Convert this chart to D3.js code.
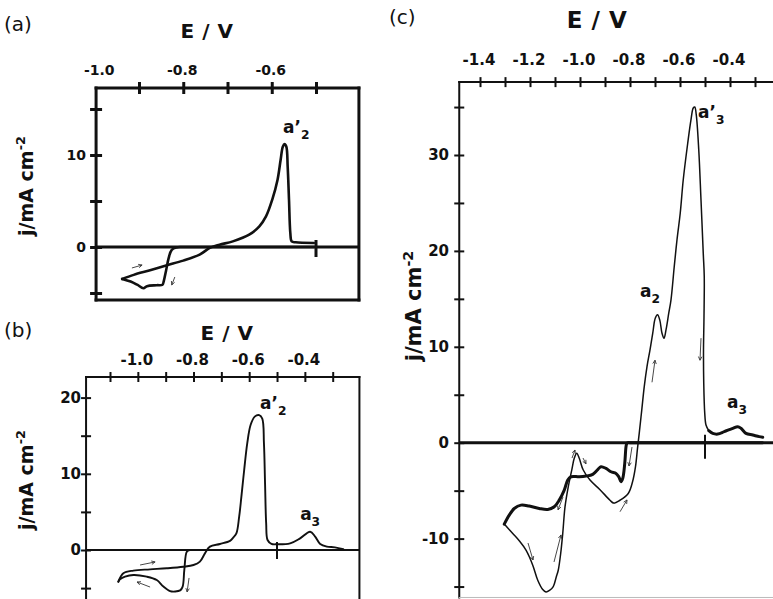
<!DOCTYPE html>
<html><head><meta charset="utf-8">
<script src="https://cdn.jsdelivr.net/npm/d3@7"></script>
<style>body{margin:0;background:#fff;} svg{display:block;}</style>
</head><body>
<svg id="chart" width="773" height="599"></svg>
<script>
// ---------------- DATA ----------------
// Panel (a)
const aFwdE = [-0.938,-0.912,-0.875,-0.837,-0.8,-0.763,-0.74,-0.718,-0.688,-0.651,-0.628,-0.613,-0.599,-0.587,-0.58,-0.575,-0.571,-0.567,-0.564,-0.561,-0.558,-0.555,-0.546,-0.505];
const aFwdJ = [-3.47,-3.03,-2.53,-1.99,-1.48,-0.83,-0.1,0.25,0.61,1.34,2.24,3.32,5.13,7.29,9.46,10.9,11.19,10.9,8.74,5.13,1.52,0.61,0.51,0.43];
const aRevE = [-0.505,-0.6,-0.7,-0.78,-0.805,-0.815,-0.826,-0.833,-0.839,-0.844,-0.847,-0.86,-0.882,-0.89,-0.904,-0.919,-0.938];
const aRevJ = [0,0,0,0,0,-0.05,-0.3,-1.2,-2.6,-3.7,-4.1,-4.15,-4.26,-4.48,-4.1,-3.75,-3.47];
const aXTicks = [-0.9,-0.8,-0.7,-0.6,-0.5];
const aXLabels = [-1.0,-0.8,-0.6];
const aYTicks = [-5,0,5,10,15];
const aYLabels = [0,10];
const aPeaks = [{E:-0.5746, j:12.4, base:"a’", sub:"2"}];
const aArrows = [[-0.916,-2.28,-0.893,-1.96],[-0.819,-3.26,-0.826,-4.13]];

// Panel (b)
const bFwdE = [-1.07,-1.052,-1.016,-0.956,-0.896,-0.837,-0.8,-0.777,-0.759,-0.741,-0.705,-0.669,-0.658,-0.646,-0.636,-0.628,-0.618,-0.607,-0.595,-0.58,-0.564,-0.553,-0.547,-0.543,-0.539,-0.534,-0.52,-0.501,-0.453,-0.417,-0.381,-0.363,-0.345,-0.321,-0.292,-0.262];
const bFwdJ = [-4.16,-3.06,-2.7,-2.54,-2.4,-2.2,-1.97,-1.53,-0.44,0.44,0.79,1.2,1.6,2.18,4.37,7.0,10.5,14.0,16.4,17.5,17.7,17.25,14.0,8.7,3.5,1.31,0.8,0.75,0.87,1.53,2.4,1.75,0.79,0.44,0.35,0.1];
const bRevE = [-0.262,-0.5,-0.7,-0.8,-0.813,-0.824,-0.833,-0.839,-0.848,-0.866,-0.884,-0.908,-0.932,-0.968,-1.016,-1.046,-1.064,-1.07];
const bRevJ = [0,0,0,0,0,-0.22,-2.6,-4.8,-5.3,-5.45,-5.4,-4.8,-3.94,-3.5,-3.28,-3.5,-3.85,-4.16];
const bXTicks = [-1.1,-1.0,-0.9,-0.8,-0.7,-0.6,-0.5,-0.4,-0.3];
const bXLabels = [-1.0,-0.8,-0.6,-0.4];
const bYTicks = [-5,0,5,10,15,20];
const bYLabels = [0,10,20];
const bPeaks = [{E:-0.561, j:18.5, base:"a’", sub:"2"},{E:-0.417, j:3.9, base:"a", sub:"3"}];
const bArrows = [[-0.992,-1.97,-0.938,-1.57],[-0.956,-4.86,-1.003,-4.2],[-0.816,-3.67,-0.823,-5.5]];

// Panel (c)
const cFwdE = [-1.303,-1.269,-1.243,-1.216,-1.189,-1.169,-1.149,-1.136,-1.122,-1.107,-1.095,-1.087,-1.077,-1.069,-1.06,-1.047,-1.033,-1.023,-1.013,-1.003,-0.987,-0.96,-0.92,-0.88,-0.865,-0.84,-0.807,-0.79,-0.778,-0.77,-0.763,-0.753,-0.743,-0.732,-0.72,-0.709,-0.699,-0.69,-0.681,-0.672,-0.664,-0.656,-0.645,-0.636,-0.623,-0.612,-0.599,-0.587,-0.569,-0.556,-0.547,-0.541,-0.535,-0.525,-0.516,-0.507,-0.503,-0.504,-0.506,-0.505,-0.501,-0.496,-0.485];
const cFwdJ = [-8.49,-9.47,-10.23,-11.21,-12.77,-14.34,-15.31,-15.56,-15.4,-15.0,-14.0,-13.3,-11.5,-9.45,-6.7,-4.6,-2.85,-1.63,-1.1,-1.63,-2.85,-3.9,-4.9,-6.0,-6.3,-6.0,-5.3,-4.1,-2.5,-0.6,1.0,3.4,5.85,7.94,9.68,11.42,12.98,13.33,12.81,11.42,10.89,11.76,13.5,14.9,18.37,21.16,23.95,27.42,31.25,33.7,34.9,35.0,34.2,30.55,25.3,19.77,17.33,13.16,9.68,6.2,3.06,1.84,1.25];
const cTailE = [-0.485,-0.469,-0.449,-0.423,-0.389,-0.369,-0.356,-0.336,-0.309,-0.283,-0.269];
const cTailJ = [1.25,0.97,0.9,1.15,1.5,1.67,1.5,0.97,0.8,0.63,0.56];
const cRevE = [-0.27,-0.4,-0.6,-0.75,-0.795,-0.808,-0.813,-0.816,-0.821,-0.829,-0.836,-0.845,-0.856,-0.876,-0.896,-0.916,-0.929,-0.949,-0.976,-1.003,-1.036,-1.049,-1.063,-1.083,-1.103,-1.129,-1.163,-1.203,-1.236,-1.263,-1.283,-1.303];
const cRevJ = [0,0,0,0,0,0,-0.1,-0.42,-2.16,-3.72,-4.07,-3.55,-3.2,-3.03,-2.68,-2.5,-2.8,-3.3,-3.48,-3.55,-3.55,-3.9,-4.94,-5.99,-6.68,-6.96,-6.86,-6.61,-6.51,-6.86,-7.55,-8.49];
const cXTicks = [-1.4,-1.3,-1.2,-1.1,-1.0,-0.9,-0.8,-0.7,-0.6,-0.5,-0.4,-0.3];
const cXLabels = [-1.4,-1.2,-1.0,-0.8,-0.6,-0.4];
const cYTicks = [-15,-10,-5,0,5,10,15,20,25,30,35];
const cYLabels = [-10,0,10,20,30];
const cPeaks = [{E:-0.528, j:33.9, base:"a’", sub:"3"},{E:-0.76, j:15.2, base:"a", sub:"2"},{E:-0.412, j:3.6, base:"a", sub:"3"}];
const cArrows = [[-1.208,-10.46,-1.188,-12.23],[-1.104,-12.44,-1.076,-9.62],[-1.032,-1.6,-1.02,-0.76],[-0.988,-1.6,-0.976,-2.2],[-1.068,-5.66,-1.088,-7.0],[-0.792,-0.45,-0.804,-2.43],[-0.84,-7.2,-0.812,-5.97],[-0.712,6.3,-0.70,8.6],[-0.516,10.9,-0.52,8.6]];

// ---------------- DRAW ----------------
const FONT = "'DejaVu Sans', Verdana, sans-serif";
const INK = "#111";
const svg = d3.select("#chart");
const zip = (E, J) => E.map((e, i) => [e, J[i]]);

function panel(cfg) {
  const g = svg.append("g");
  const x = d3.scaleLinear().domain(cfg.xDom).range(cfg.xRange);
  const y = d3.scaleLinear().domain(cfg.yDom).range(cfg.yRange);
  const L = x(cfg.xExt[0]), R = x(cfg.xExt[1]), T = y(cfg.yExt[1]), B = y(cfg.yExt[0]);

  // frame
  const fr = g.append("g").attr("stroke", INK).attr("stroke-width", cfg.fw).attr("fill", "none").attr("stroke-linecap", "square");
  fr.append("line").attr("x1", L).attr("x2", R).attr("y1", T).attr("y2", T);
  fr.append("line").attr("x1", L).attr("x2", L).attr("y1", T).attr("y2", B);
  if (cfg.right) fr.append("line").attr("x1", R).attr("x2", R).attr("y1", T).attr("y2", B);
  if (cfg.bottom) fr.append("line").attr("x1", L).attr("x2", R).attr("y1", B).attr("y2", B).attr("stroke", cfg.bottomColor || INK).attr("stroke-width", cfg.bottomW || cfg.fw);

  // zero line
  g.append("line").attr("x1", L).attr("x2", R).attr("y1", y(0)).attr("y2", y(0))
    .attr("stroke", INK).attr("stroke-width", cfg.zw);
  g.append("line").attr("x1", x(cfg.zeroTick.E)).attr("x2", x(cfg.zeroTick.E))
    .attr("y1", y(0) - cfg.zeroTick.up).attr("y2", y(0) + cfg.zeroTick.down)
    .attr("stroke", INK).attr("stroke-width", cfg.tw);

  // x ticks (cross ticks)
  const gx = g.append("g").attr("transform", `translate(0,${T})`)
    .call(d3.axisTop(x).tickValues(cfg.xTicks).tickSize(cfg.tl).tickFormat(""));
  gx.select(".domain").remove();
  gx.selectAll(".tick line").attr("y1", cfg.tl).attr("y2", -cfg.tl).attr("stroke", INK).attr("stroke-width", cfg.tw);

  const gxl = g.append("g").attr("transform", `translate(0,${cfg.xLabelY})`)
    .call(d3.axisTop(x).tickValues(cfg.xLabels).tickSize(0).tickPadding(0).tickFormat(d => d.toFixed(1)));
  gxl.select(".domain").remove();
  gxl.selectAll("text").attr("font-family", FONT).attr("font-weight", "bold").attr("font-size", cfg.tf)
    .attr("fill", INK).attr("dx", d => (cfg.xLabelShift && cfg.xLabelShift[d] !== undefined ? cfg.xLabelShift[d] : -1.5));

  // y ticks
  const gy = g.append("g").attr("transform", `translate(${L},0)`)
    .call(d3.axisLeft(y).tickValues(cfg.yTicks).tickSize(cfg.tl).tickFormat(""));
  gy.select(".domain").remove();
  gy.selectAll(".tick line").attr("x1", cfg.tl).attr("x2", -cfg.tl).attr("stroke", INK).attr("stroke-width", cfg.tw);

  const gyl = g.append("g").attr("transform", `translate(${cfg.yLabelX},0)`)
    .call(d3.axisLeft(y).tickValues(cfg.yLabels).tickSize(0).tickPadding(0).tickFormat(d3.format("d")));
  gyl.select(".domain").remove();
  gyl.selectAll("text").attr("font-family", FONT).attr("font-weight", "bold").attr("font-size", cfg.tf).attr("fill", INK)
    .text(d => String(d).replace("−", "-"));

  // curves
  const line = d3.line().x(d => x(d[0])).y(d => y(d[1])).curve(d3.curveCatmullRom.alpha(0.5));
  cfg.series.forEach(s => {
    g.append("path").datum(s.data).attr("d", line).attr("fill", "none")
      .attr("stroke", INK).attr("stroke-width", s.w).attr("stroke-linejoin", "round").attr("stroke-linecap", "round");
  });

  // arrows
  cfg.arrows.forEach(a => {
    const x1 = x(a[0]), y1 = y(a[1]), x2 = x(a[2]), y2 = y(a[3]);
    const ang = Math.atan2(y2 - y1, x2 - x1), h = 4;
    const p = d3.path();
    p.moveTo(x1, y1); p.lineTo(x2, y2);
    p.moveTo(x2 - h * Math.cos(ang - 0.45), y2 - h * Math.sin(ang - 0.45)); p.lineTo(x2, y2);
    p.lineTo(x2 - h * Math.cos(ang + 0.45), y2 - h * Math.sin(ang + 0.45));
    g.append("path").attr("d", p.toString()).attr("fill", "none").attr("stroke", "#333").attr("stroke-width", 0.9);
  });

  // peak labels
  cfg.peaks.forEach(pk => {
    const t = g.append("text").attr("x", x(pk.E)).attr("y", y(pk.j))
      .attr("font-family", FONT).attr("font-weight", "bold").attr("font-size", cfg.pf).attr("fill", INK);
    t.append("tspan").text(pk.base);
    t.append("tspan").attr("dy", cfg.pf * 0.35).attr("font-size", cfg.pf * 0.72).text(pk.sub);
  });

  // titles
  g.append("text").attr("x", cfg.eTitle[0]).attr("y", cfg.eTitle[1]).attr("text-anchor", "middle")
    .attr("font-family", FONT).attr("font-weight", "bold").attr("font-size", cfg.ef).attr("fill", INK)
    .attr("letter-spacing", 0.5).text("E / V");
  g.append("text").attr("x", cfg.letter[0]).attr("y", cfg.letter[1])
    .attr("font-family", FONT).attr("font-size", cfg.lf).attr("fill", INK).text(cfg.letterText);
  const yt = g.append("text").attr("transform", `translate(${cfg.yTitle[0]},${cfg.yTitle[1]}) rotate(-90)`)
    .attr("text-anchor", "middle").attr("font-family", FONT).attr("font-weight", "bold")
    .attr("font-size", cfg.yf).attr("fill", INK);
  yt.append("tspan").text("j/mA cm");
  yt.append("tspan").attr("dy", -cfg.yf * 0.4).attr("font-size", cfg.yf * 0.68).text("-2");
}

panel({
  xDom: [-0.9, -0.5], xRange: [139, 316], yDom: [0, 10], yRange: [247, 155],
  xExt: [-0.997, -0.403], yExt: [-5.76, 17.28], right: true, bottom: true,
  fw: 3, zw: 3, tw: 3, tl: 6, tf: 14, pf: 17, ef: 20, lf: 20, yf: 19,
  xTicks: aXTicks, xLabels: aXLabels, yTicks: aYTicks, yLabels: aYLabels,
  xLabelShift: {"-1": 4}, xLabelY: 75, yLabelX: 86,
  zeroTick: {E: -0.5, up: 7, down: 10},
  series: [{data: zip(aFwdE, aFwdJ), w: 2.6}, {data: zip(aRevE, aRevJ), w: 2.6}],
  arrows: aArrows, peaks: aPeaks,
  eTitle: [207, 38], letter: [4, 31], letterText: "(a)", yTitle: [33, 186]
});

panel({
  xDom: [-1.1, -0.3], xRange: [110, 332.7], yDom: [0, 20], yRange: [550, 397.6],
  xExt: [-1.186, -0.204], yExt: [-6.5, 22.7], right: true, bottom: false,
  fw: 2, zw: 2.2, tw: 2, tl: 5, tf: 15, pf: 17, ef: 20, lf: 20, yf: 19,
  xTicks: bXTicks, xLabels: bXLabels, yTicks: bYTicks, yLabels: bYLabels,
  xLabelY: 365, yLabelX: 81,
  zeroTick: {E: -0.5, up: 8, down: 9},
  series: [{data: zip(bFwdE, bFwdJ), w: 1.9}, {data: zip(bRevE, bRevJ), w: 1.9}],
  arrows: bArrows, peaks: bPeaks,
  eTitle: [227, 340], letter: [4, 337], letterText: "(b)", yTitle: [33, 480]
});

panel({
  xDom: [-1.4, -0.3], xRange: [480, 755], yDom: [0, 30], yRange: [442.7, 155],
  xExt: [-1.483, -0.228], yExt: [-16.14, 37.6], right: false, bottom: true, bottomColor: "#bbb", bottomW: 1,
  fw: 2, zw: 3, tw: 2, tl: 5, tf: 15, pf: 17, ef: 23, lf: 20, yf: 21,
  xTicks: cXTicks, xLabels: cXLabels, yTicks: cYTicks, yLabels: cYLabels,
  xLabelY: 65, yLabelX: 449,
  zeroTick: {E: -0.5, up: 8, down: 16},
  series: [{data: zip(cFwdE, cFwdJ), w: 1.5}, {data: zip(cTailE, cTailJ), w: 3}, {data: zip(cRevE, cRevJ), w: 3}],
  arrows: cArrows, peaks: cPeaks,
  eTitle: [597, 28], letter: [389, 24], letterText: "(c)", yTitle: [421, 306]
});
</script>
</body></html>
